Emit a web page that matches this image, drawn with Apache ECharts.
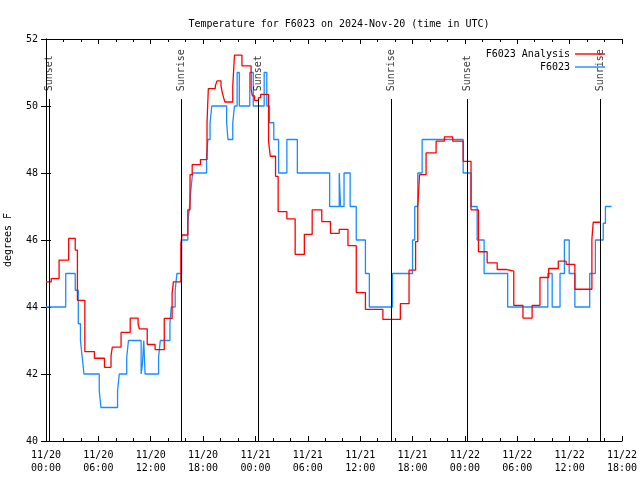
<!DOCTYPE html>
<html><head><meta charset="utf-8">
<script src="https://cdn.jsdelivr.net/npm/echarts@6/dist/echarts.min.js"></script>
<style>html,body{margin:0;padding:0;background:#fff}#c{width:640px;height:480px}</style>
</head><body><div id="c"></div>
<script>
// Hours since 11/20 00:00 UTC at which each level starts (step lines)
const redHours = [0,0.6,1.5,2.6,3.35,3.6,4.45,5.55,6.7,7.45,7.6,8.6,9.65,10.55,10.7,11.6,12.5,13.55,14.45,14.6,15.45,15.6,16.25,16.5,16.75,17.7,18.45,18.6,19.4,19.6,20.05,20.2,20.35,20.5,21.4,21.6,22.45,23.5,23.65,23.9,24.35,24.6,25.5,25.7,26.3,26.6,27.6,28.55,29.6,30.5,31.6,32.6,33.6,34.6,35.55,36.6,38.6,40.6,41.6,42.35,42.6,42.8,43.55,44.7,45.65,46.6,47.8,48.7,49.55,50.55,51.7,52.7,53.6,54.65,55.7,56.6,57.6,58.7,59.6,60.6,62.55,62.7,63.6];
const redTemps = [44.75,44.85,45.4,46.05,45.7,44.2,42.67,42.47,42.2,42.55,42.8,43.24,43.67,43.5,43.35,42.88,42.73,43.66,44.4,44.75,45.9,46.15,46.9,47.95,48.25,48.4,49.5,50.52,50.6,50.75,50.6,50.4,50.25,50.12,50.6,51.52,51.2,50.5,50.3,50.17,50.25,50.35,48.95,48.5,47.9,46.85,46.63,45.57,46.17,46.9,46.55,46.2,46.32,45.83,44.43,43.93,43.63,44.1,45.1,45.95,47.0,47.95,48.6,48.95,49.08,48.95,48.35,46.9,45.65,45.32,45.12,45.07,44.05,43.67,44.05,44.88,45.15,45.37,45.27,44.53,46.02,46.53,46.53];
const blueHours = [0,2.26,3.35,3.7,3.95,4.15,4.35,6.1,6.3,8.2,8.4,9.25,9.45,10.9,11.05,11.2,11.35,11.6,12.9,13.1,14.2,14.35,14.8,15.0,15.55,16.25,16.45,16.6,16.8,18.4,18.55,18.8,19.0,20.7,20.85,21.4,21.6,21.9,22.15,23.35,23.75,25.0,25.3,25.6,26.1,26.65,27.6,28.8,32.5,33.6,33.75,34.15,34.85,35.55,36.6,37.05,39.7,42.0,42.25,42.6,43.1,47.8,48.7,49.4,50.2,52.9,57.5,58.0,58.9,59.4,59.95,60.6,62.3,62.95,63.85,64.1,64.8];
const blueTemps = [44.0,45.0,44.5,43.5,43.0,42.5,42.0,41.5,41.0,41.5,42.0,42.5,43.0,42.0,42.3,43.0,42.0,42.0,42.5,43.0,43.5,44.0,44.5,45.0,46.0,46.5,47.0,47.5,48.0,48.5,49.0,49.5,50.0,49.5,49.0,49.5,50.0,51.0,50.0,51.0,50.0,51.0,50.0,49.5,49.0,48.0,49.0,48.0,47.0,48.0,47.0,48.0,47.0,46.0,45.0,44.0,45.0,46.0,47.0,48.0,49.0,48.0,47.0,46.0,45.0,44.0,45.0,44.0,45.0,46.0,45.0,44.0,45.0,46.0,46.5,47.0,47.0];
const eventHours = [0.38,15.55,24.33,39.61,48.28,63.56];
const eventNames = ['Sunset','Sunrise','Sunset','Sunrise','Sunset','Sunrise'];
const xTickLabels = ['11/20\n00:00','11/20\n06:00','11/20\n12:00','11/20\n18:00','11/21\n00:00','11/21\n06:00','11/21\n12:00','11/21\n18:00','11/22\n00:00','11/22\n06:00','11/22\n12:00','11/22\n18:00'];
const seriesNames = ['F6023 Analysis','F6023'];
const seriesColors = ['#ff0000','#1a8cff'];

const FONT = 'DejaVu Sans Mono';
const FS = 10;
const zip = (a,b) => a.map((v,i)=>[v,b[i]]);
const axisBase = {
  type:'value', min:0, max:66, interval:6,
  axisLine:{show:true, lineStyle:{color:'#000', width:1}},
  axisTick:{show:true, inside:true, length:5, lineStyle:{color:'#000'}},
  minorTick:{show:true, splitNumber:3, length:3, lineStyle:{color:'#000'}},
  splitLine:{show:false}
};
const yBase = {
  type:'value', min:40, max:52, interval:2,
  axisLine:{show:true, lineStyle:{color:'#000', width:1}},
  axisTick:{show:true, inside:true, length:5, lineStyle:{color:'#000'}},
  splitLine:{show:false}
};
const chart = echarts.init(document.getElementById('c'), null, {renderer:'canvas'});
chart.setOption({
  animation:false,
  backgroundColor:'#fff',
  title:{text:'Temperature for F6023 on 2024-Nov-20 (time in UTC)', left:334, textAlign:'center', top:14,
    textStyle:{fontFamily:FONT, fontSize:FS, fontWeight:'normal', color:'#000'}},
  legend:{orient:'vertical', right:30, top:43, align:'right', itemWidth:30, itemHeight:1.4, itemGap:1,
    data:seriesNames.map(n=>({name:n, icon:'rect'})), textStyle:{fontFamily:FONT, fontSize:FS, color:'#000', lineHeight:12}},
  grid:{left:46, right:18, top:39, bottom:39, outerBoundsMode:'none', containLabel:false},
  xAxis:[
    Object.assign({}, axisBase, {position:'bottom',
      axisLabel:{show:true, margin:8, fontFamily:FONT, fontSize:FS, lineHeight:13, color:'#000',
        formatter:v => xTickLabels[Math.round(v/6)]}}),
    Object.assign({}, axisBase, {position:'top', axisLabel:{show:false}})
  ],
  yAxis:[
    Object.assign({}, yBase, {position:'left', name:'degrees F', nameLocation:'middle', nameGap:33, nameRotate:90,
      nameTextStyle:{fontFamily:FONT, fontSize:FS, color:'#000'},
      axisLabel:{show:true, margin:8, fontFamily:FONT, fontSize:FS, color:'#000'}}),
    Object.assign({}, yBase, {position:'right', axisLabel:{show:false}})
  ],
  series:[
    {name:seriesNames[0], type:'line', step:'end', symbol:'none', showSymbol:false,
     data:zip(redHours, redTemps), lineStyle:{color:seriesColors[0], width:1.3}, itemStyle:{color:seriesColors[0]}, z:3},
    {name:seriesNames[1], type:'line', step:'end', symbol:'none', showSymbol:false,
     data:zip(blueHours, blueTemps), lineStyle:{color:seriesColors[1], width:1.3}, itemStyle:{color:seriesColors[1]}, z:2},
    {name:'events', type:'scatter', symbolSize:1, itemStyle:{color:'rgba(0,0,0,0)'}, silent:true,
     data:eventHours.map((h,i)=>({name:eventNames[i], value:[h,50.44]})),
     label:{show:true, position:'inside', formatter:'{b}', rotate:90, align:'left', verticalAlign:'middle',
       fontFamily:FONT, fontSize:FS, color:'#000'},
     labelLayout:{hideOverlap:false},
     markLine:{silent:true, symbol:['none','none'], label:{show:false}, lineStyle:{color:'#000', width:1, type:'solid'},
       data:eventHours.map(h=>[{coord:[h,40]},{coord:[h,50.21]}])}
    }
  ]
});
</script></body></html>
